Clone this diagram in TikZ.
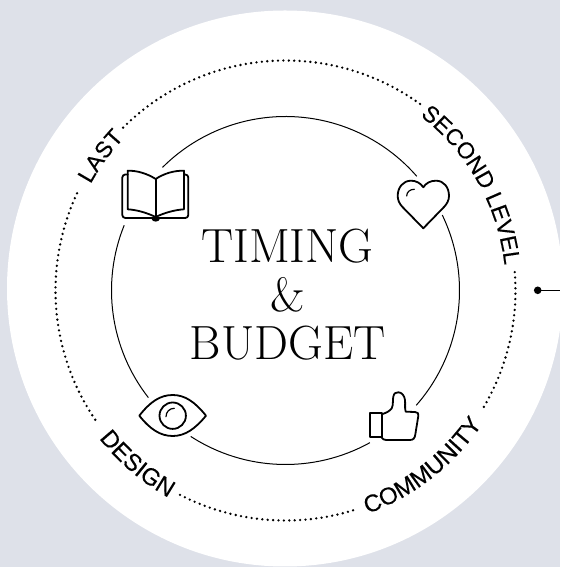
\documentclass[tikz,border=0pt]{standalone}
\usepackage{fontspec}
\setsansfont{Liberation Sans}
\usetikzlibrary{decorations.text}
\definecolor{bgblue}{HTML}{DEE1E9}
\newfontfamily\lblfamily[FakeBold=0.2]{Liberation Sans}
\newcommand{\lblfont}{\lblfamily\fontsize{23}{23}\selectfont}
\newcommand{\lblfontb}{\lblfamily\fontsize{24}{24}\selectfont}
\newcommand{\dotarc}[2]{\draw[dotline,shift={(285.5,276.5)}] (#1:230) arc[start angle=#1,end angle=#2,radius=230];}
\newcommand{\innerarc}[2]{\draw[innerline,shift={(285.5,276.5)}] (#1:174) arc[start angle=#1,end angle=#2,radius=174];}
\newcommand{\lblarc}[4]{\path[shift={(285.5,276.5)},decorate,decoration={text along path,text align=center,text={#4}}] (#1:#3) arc[start angle=#1,end angle=#2,radius=#3];}
\tikzset{
  dotline/.style={black,line width=2.6pt,line cap=round,dash pattern=on 0pt off 5.4pt},
  innerline/.style={black,line width=1pt},
  iconline/.style={black,line width=1.8pt,line join=round,line cap=round},
  titletext/.style={font=\fontsize{48}{48.5}\selectfont,align=center,inner sep=0pt},
}
\begin{document}
\begin{tikzpicture}[x=1pt,y=1pt]
\useasboundingbox (0,0) rectangle (560,567);
\clip (0,0) rectangle (560,567);
\fill[bgblue] (0,0) rectangle (560,567);
\fill[white] (285,278.5) circle[radius=278];
% dotted arcs
\dotarc{54.2}{135.7}
\dotarc{155}{215}
\dotarc{242.7}{288}
\dotarc{-30.4}{5.6}
% inner arcs
\innerarc{41}{135}
\innerarc{158}{218}
\innerarc{237}{299}
\innerarc{318.7}{385.7}
% curved labels
\lblarc{156}{132}{222}{|\lblfont|LAST}
\lblarc{54}{5}{220.5}{|\lblfont|SECOND LEVEL}
\lblarc{-75}{-29}{238}{|\lblfontb|COMMUNITY}
\lblarc{-147}{-114}{238}{|\lblfontb|DESIGN}
% title
\node[titletext] (title) at (287.5,272) {TIMING\\\&\\BUDGET};
% connector
\fill[black] (537.7,276.7) circle[radius=3.8] coordinate (dot);
\coordinate (edge) at (560,276.7);
\draw[black,line width=1pt] (dot) -- (edge);
% icons in screen coordinates
\begin{scope}[cm={1,0,0,-1,(0,567)}]
% book
\draw[iconline] (155.7,179) .. controls (147,173.5) and (137,170.5) .. (127.7,170.7) -- (127.7,209.3) .. controls (138,210) and (147,213) .. (155.7,217) .. controls (164,213) and (174,210) .. (184,209.3) -- (184,170.7) .. controls (174,170.5) and (164,173.5) .. (155.7,179) -- cycle;
\draw[iconline] (155.7,179) -- (155.7,217);
\draw[iconline,rounded corners=3pt] (127.7,174.5) -- (122.3,174.5) -- (122.3,218) -- (188.3,218) -- (188.3,174.5) -- (184,174.5);
\fill[black] (155.7,219) ellipse[x radius=4,y radius=2.6];
% heart
\draw[iconline] (423.3,228.3) -- (402.5,207) .. controls (399.5,204) and (397.7,200) .. (397.7,196) .. controls (397.7,187.5) and (403,180.7) .. (411,180.7) .. controls (416,180.7) and (420.5,183) .. (423.3,187.3) .. controls (426,183) and (430.5,180.7) .. (436,180.7) .. controls (444,180.7) and (449,187.5) .. (449,196) .. controls (449,200) and (447,204) .. (444,207) -- cycle;
\draw[black,line width=1.2pt,line cap=round] (406.7,196) .. controls (406.7,192) and (410,189.3) .. (414.3,189.3);
% eye
\draw[iconline] (139.3,415.7) .. controls (150,402) and (160,395) .. (172.7,395) .. controls (185,395) and (195,402) .. (206,415.7) .. controls (195,429) and (185,436) .. (172.7,436) .. controls (160,436) and (150,429) .. (139.3,415.7) -- cycle;
\draw[iconline] (172.7,415.7) circle[radius=13.2];
\draw[black,line width=1.2pt,line cap=round] (166,416.7) .. controls (166,412) and (169.5,408.3) .. (174.3,408.3);
% thumb
\draw[iconline,line width=2pt] (370,413.5) rectangle (381.7,436.7);
\draw[iconline] (381.7,414.3) .. controls (386,413) and (390,411) .. (391.7,408.3) .. controls (393.5,405) and (392.5,400) .. (393.3,396.7) .. controls (394,393) and (396,392.3) .. (398.3,392.3) .. controls (402,392.3) and (404.5,396) .. (405,400) .. controls (405.5,404) and (404.5,408) .. (405.7,411.7) -- (415,412) .. controls (418,412.2) and (418.8,413.5) .. (418.3,416) -- (415.3,434.5) .. controls (414.8,438) and (413.5,440) .. (410,440) -- (386,440) .. controls (384,440) and (382.5,439) .. (381.7,437.5);
\end{scope}
\end{tikzpicture}
\end{document}
